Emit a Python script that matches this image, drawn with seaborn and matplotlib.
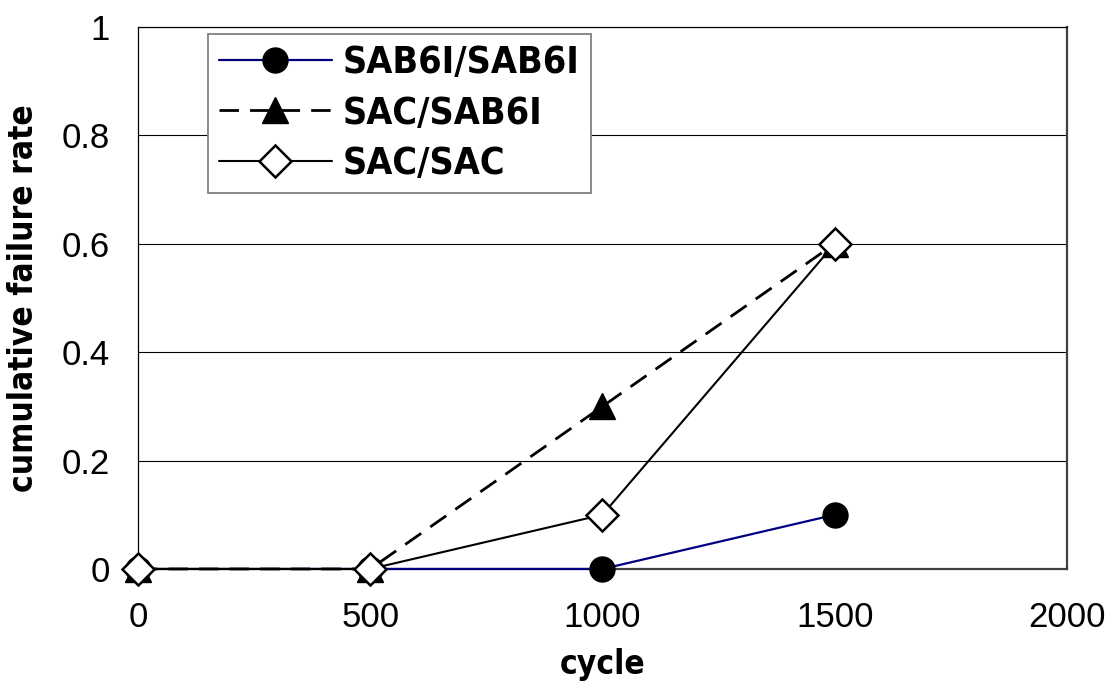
import matplotlib
matplotlib.use("Agg")
import matplotlib.pyplot as plt
import seaborn as sns
import pandas as pd

# Thermal-cycle results per solder combination
cycles = [0, 500, 1000, 1500]
sab6i_sab6i = [0.0, 0.0, 0.0, 0.1]
sac_sab6i = [0.0, 0.0, 0.3, 0.6]
sac_sac = [0.0, 0.0, 0.1, 0.6]
series_names = ["SAB6I/SAB6I", "SAC/SAB6I", "SAC/SAC"]
x_ticks = [0, 500, 1000, 1500, 2000]
y_ticks = [0, 0.2, 0.4, 0.6, 0.8, 1.0]
y_tick_labels = ["0", "0.2", "0.4", "0.6", "0.8", "1"]

sns.set_theme(style="white")
plt.rcParams["font.family"] = ["Liberation Sans", "DejaVu Sans"]
plt.rcParams["text.color"] = "black"
plt.rcParams["axes.labelcolor"] = "black"

fig = plt.figure(figsize=(11.19, 6.86), dpi=100)
ax = fig.add_axes([0.1233, 0.1706, 0.8302, 0.79])

df = pd.DataFrame({"cycle": cycles, "a": sab6i_sab6i, "b": sac_sab6i, "c": sac_sac})

styles = [
    dict(y="a", color="#000080", lw=1.6, marker="o", ms=18, mfc="black", mec="black", mew=1.0,
         ls="-"),
    dict(y="b", color="black", lw=2.0, marker="^", ms=19, mfc="black", mec="black", mew=1.0,
         ls=(0, (7, 4))),
    dict(y="c", color="black", lw=1.5, marker="D", ms=16, mfc="white", mec="black", mew=1.8,
         ls="-"),
]
for name, st in zip(series_names, styles):
    sns.lineplot(data=df, x="cycle", y=st["y"], ax=ax, color=st["color"], linewidth=st["lw"],
                 linestyle=st["ls"], marker=st["marker"], markersize=st["ms"],
                 markerfacecolor=st["mfc"], markeredgecolor=st["mec"],
                 markeredgewidth=st["mew"], clip_on=False, label=name, zorder=3)

ax.set_xlim(0, 2000)
ax.set_ylim(0, 1)
ax.set_xticks(x_ticks)
ax.set_xticklabels([str(v) for v in x_ticks])
ax.set_yticks(y_ticks)
ax.set_yticklabels(y_tick_labels)
ax.tick_params(axis="both", direction="in", length=9, width=1, colors="black",
               labelcolor="black", labelsize=25, pad=20)
ax.tick_params(axis="x", pad=23)

ax.yaxis.grid(True, color="black", linewidth=0.8)
ax.xaxis.grid(False)
ax.set_axisbelow(True)

for side in ["left", "top"]:
    ax.spines[side].set_color("black")
    ax.spines[side].set_linewidth(0.9)
for side in ["right", "bottom"]:
    ax.spines[side].set_color("#404040")
    ax.spines[side].set_linewidth(1.6)

narrow = ["DejaVu Sans", "Liberation Sans"]
label_font = dict(family=narrow, weight="bold", stretch="condensed", size=24, color="black")
ax.set_xlabel("cycle", fontdict=label_font, labelpad=10)
ax.set_ylabel("cumulative failure rate", fontdict=label_font, labelpad=16)

leg = ax.legend(loc="upper left", bbox_to_anchor=(0.0753, 0.987), borderaxespad=0,
                frameon=True, fancybox=False, edgecolor="#808080", framealpha=1,
                handlelength=3.0, handletextpad=0.3, borderpad=0.3, labelspacing=0.38,
                prop=dict(family=narrow, weight="bold", stretch="condensed", size=27))
leg.get_frame().set_linewidth(1.3)
for t in leg.get_texts():
    t.set_color("black")

fig.savefig("out.png", dpi=100, facecolor="white")
